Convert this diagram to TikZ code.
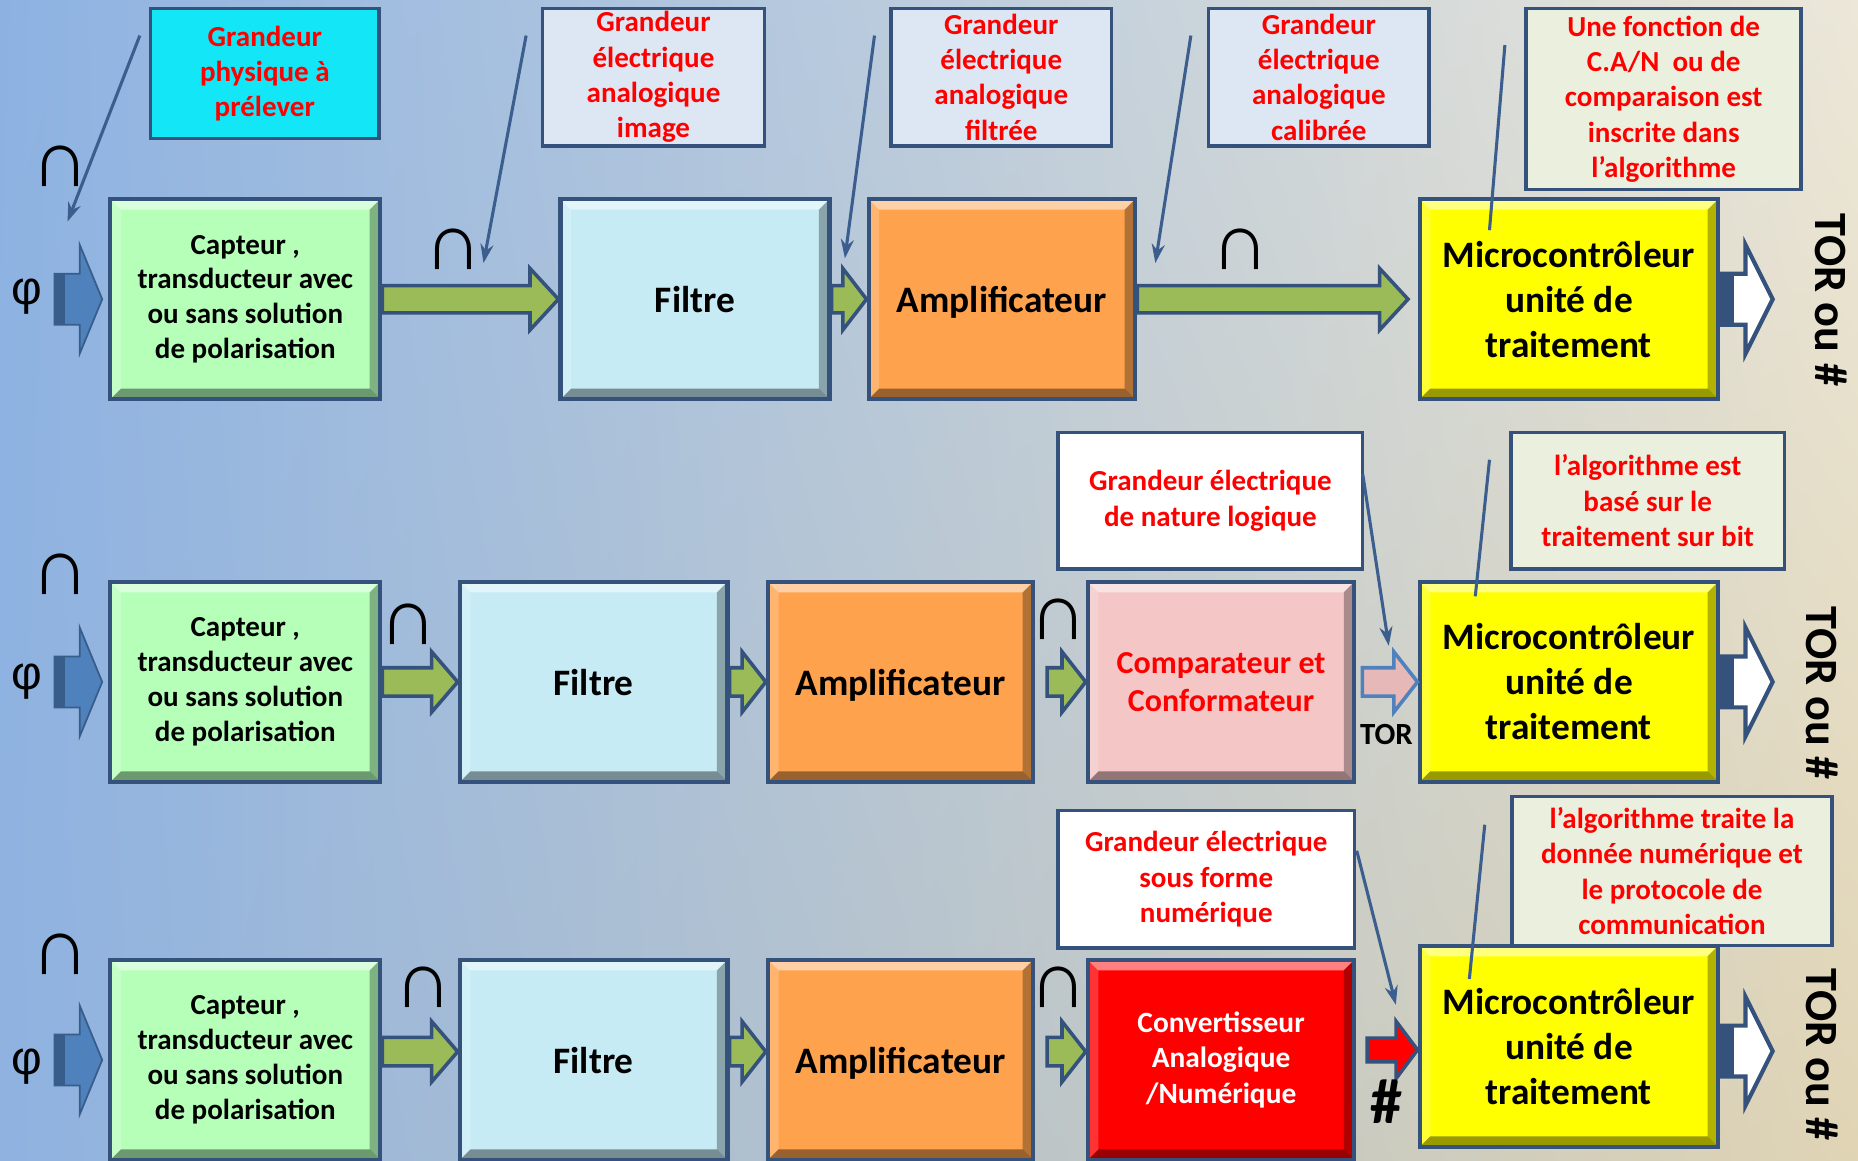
\documentclass[tikz,border=0pt]{standalone}
\usepackage{fontspec}
\setmainfont{Carlito}
\newfontfamily\symbolfont{Liberation Sans}
\usetikzlibrary{arrows.meta,calc,shadings}

\definecolor{bgleft}{RGB}{141,178,226}
\definecolor{bgleftlow}{RGB}{143,178,224}
\definecolor{bgright}{RGB}{236,231,216}
\definecolor{bgrightlow}{RGB}{224,212,180}
\definecolor{frame}{RGB}{52,82,124}
\definecolor{leadcol}{RGB}{60,94,142}
\definecolor{capgreen}{RGB}{181,255,185}
\definecolor{filblue}{RGB}{198,235,245}
\definecolor{amporange}{RGB}{255,162,77}
\definecolor{micyellow}{RGB}{255,255,0}
\definecolor{cmppink}{RGB}{244,198,198}
\definecolor{canred}{RGB}{255,0,0}
\definecolor{cyanbox}{RGB}{18,230,247}
\definecolor{paleblue}{RGB}{221,231,243}
\definecolor{palegreen}{RGB}{235,240,222}
\definecolor{arrowgreen}{RGB}{155,187,89}
\definecolor{arrowblue}{RGB}{79,129,189}
\definecolor{arrowbluedark}{RGB}{56,93,138}
\definecolor{arrowpink}{RGB}{230,185,184}
\definecolor{txtred}{RGB}{255,0,0}

% block arrow from the x of #2 to the point #3 (tip), centred on the y of #3
% #4 head length, #5 half shaft width, #6 half head width
\newcommand\blockarrow[6]{%
  \path[#1] let \p1=(#2), \p2=(#3) in
    (\x1,{\y2+#5}) -- ({\x2-#4},{\y2+#5}) -- ({\x2-#4},{\y2+#6}) -- (\x2,\y2)
    -- ({\x2-#4},{\y2-#6}) -- ({\x2-#4},{\y2-#5}) -- (\x1,{\y2-#5}) -- cycle;}

\tikzset{
  bevel/.style={path picture={
    \def\bw{9pt}
    \fill[white,opacity=.5] (path picture bounding box.north west) -- (path picture bounding box.north east)
      -- ([shift={(-\bw,-\bw)}]path picture bounding box.north east) -- ([shift={(\bw,-\bw)}]path picture bounding box.north west) -- cycle;
    \fill[white,opacity=.2] (path picture bounding box.north west) -- ([shift={(\bw,-\bw)}]path picture bounding box.north west)
      -- ([shift={(\bw,\bw)}]path picture bounding box.south west) -- (path picture bounding box.south west) -- cycle;
    \fill[black,opacity=.3] (path picture bounding box.north east) -- (path picture bounding box.south east)
      -- ([shift={(-\bw,\bw)}]path picture bounding box.south east) -- ([shift={(-\bw,-\bw)}]path picture bounding box.north east) -- cycle;
    \fill[black,opacity=.4] (path picture bounding box.south west) -- (path picture bounding box.south east)
      -- ([shift={(-\bw,\bw)}]path picture bounding box.south east) -- ([shift={(\bw,\bw)}]path picture bounding box.south west) -- cycle;
  }},
  block/.style={draw=frame, line width=3.5pt, minimum height=169pt, inner sep=0pt, align=center,
    font=\bfseries\fontsize{24.5}{29.5}\selectfont, bevel},
  bigword/.style={font=\bfseries\fontsize{31.5}{38}\selectfont},
  oneline/.style={bigword, text depth=0pt},
  callout/.style={draw=frame, line width=3pt, align=center, text=txtred, inner sep=0pt,
    font=\bfseries\fontsize{24.5}{29.8}\selectfont},
  inter/.style={font=\symbolfont\fontsize{68}{68}\selectfont, inner sep=0pt},
  phisym/.style={font=\symbolfont\fontsize{40}{40}\selectfont, inner sep=0pt},
  outlabel/.style={rotate=-90, font=\bfseries\fontsize{39}{39}\selectfont, inner sep=0pt},
  lead/.style={draw=leadcol, line width=2.6pt},
  leadarrow/.style={lead, -{Stealth[length=16pt,width=11pt]}},
  garrow/.style={fill=arrowgreen, draw=frame, line width=3pt, line join=miter},
  parrow/.style={fill=arrowpink, draw=arrowblue, line width=3pt, line join=miter},
  rarrow/.style={fill=canred, draw=frame, line width=3pt, line join=miter},
  inarrow/.style={fill=arrowblue, draw=arrowbluedark, line width=1.5pt, line join=miter},
  outarrow/.style={fill=white, draw=frame, line width=3.5pt, line join=miter},
}

\begin{document}
\begin{tikzpicture}[x=1pt,y=-1pt]
% background
\shade[upper left=bgleft, lower left=bgleftlow, upper right=bgright, lower right=bgrightlow]
  (0,0) rectangle (1568,979);
\useasboundingbox (0,0) rectangle (1568,979);

% ---------------- row 1 ----------------
\node[block, fill=capgreen, minimum width=228pt] (cap1) at (207,252.5)
  {Capteur ,\\transducteur avec\\ou sans solution\\de polarisation};
\node[block, fill=filblue, minimum width=227pt, oneline] (fil1) at (586.5,252.5) {Filtre};
\node[block, fill=amporange, minimum width=225pt, oneline] (amp1) at (845.5,252.5) {Amplificateur};
\node[block, fill=micyellow, minimum width=252pt, bigword] (mic1) at (1324,252.5)
  {Microcontrôleur\\unité de\\traitement};

\node[callout, fill=cyanbox, minimum width=193pt, minimum height=110pt] (c1) at (223.5,62)
  {Grandeur\\physique à\\prélever};
\node[callout, fill=paleblue, minimum width=187pt, minimum height=116pt] (c2) at (551.5,65)
  {Grandeur\\électrique\\analogique\\image};
\node[callout, fill=paleblue, minimum width=186pt, minimum height=116pt] (c3) at (845,65)
  {Grandeur\\électrique\\analogique\\filtrée};
\node[callout, fill=paleblue, minimum width=186pt, minimum height=116pt] (c4) at (1113,65)
  {Grandeur\\électrique\\analogique\\calibrée};
\node[callout, fill=palegreen, minimum width=232pt, minimum height=153pt] (c5) at (1404,83.5)
  {Une fonction de\\C.A/N\ \ ou de\\comparaison est\\inscrite dans\\l’algorithme};

\coordinate (in1) at (46,252.5);
\coordinate (out1) at (1496,252.5);
\blockarrow{inarrow}{in1}{[xshift=-5pt]cap1.west}{19pt}{21.5pt}{46pt}
\path[fill=arrowbluedark] let \p1=(in1) in (\x1,{\y1-21.5pt}) rectangle ({\x1+9pt},{\y1+21.5pt});
\blockarrow{garrow}{cap1.east}{fil1.west}{24pt}{11.5pt}{26pt}
\blockarrow{garrow}{fil1.east}{amp1.west}{20pt}{11.5pt}{26pt}
\blockarrow{garrow}{amp1.east}{[xshift=-8pt]mic1.west}{24pt}{11.5pt}{26pt}
\blockarrow{outarrow}{mic1.east}{out1}{23pt}{21.5pt}{46pt}
\path[fill=frame] let \p1=(mic1.east) in (\x1,{\y1-21.5pt}) rectangle ({\x1+12pt},{\y1+21.5pt});

\node[phisym] (phi1) at (23,250) {φ};
\node[inter] (u1a) at (51,140) {∩};
\node[inter] (u1b) at (383,210) {∩};
\node[inter] (u1c) at (1047,210) {∩};
\node[outlabel] (tor1) at (1545,253) {TOR ou \#};

\coordinate (l1a) at (118,30);  \coordinate (l1b) at (57,187);
\coordinate (l2a) at (444,30);  \coordinate (l2b) at (408,222);
\coordinate (l3a) at (738,30);  \coordinate (l3b) at (713,218);
\coordinate (l4a) at (1005,30); \coordinate (l4b) at (975,222);
\coordinate (l5a) at (1270,38);
\draw[leadarrow] (l1a) -- (l1b);
\draw[leadarrow] (l2a) -- (l2b);
\draw[leadarrow] (l3a) -- (l3b);
\draw[leadarrow] (l4a) -- (l4b);
\draw[lead] (l5a) -- ([xshift=-67pt,yshift=-28pt]mic1.north);

% ---------------- row 2 ----------------
\node[block, fill=capgreen, minimum width=228pt] (cap2) at (207,575.5)
  {Capteur ,\\transducteur avec\\ou sans solution\\de polarisation};
\node[block, fill=filblue, minimum width=226pt, oneline] (fil2) at (501,575.5) {Filtre};
\node[block, fill=amporange, minimum width=224pt, oneline] (amp2) at (760,575.5) {Amplificateur};
\node[block, fill=cmppink, minimum width=225pt, text=txtred, font=\bfseries\fontsize{27}{32.5}\selectfont]
  (cmp2) at (1030.5,575.5) {Comparateur et\\Conformateur};
\node[block, fill=micyellow, minimum width=252pt, bigword] (mic2) at (1324,575.5)
  {Microcontrôleur\\unité de\\traitement};

\node[callout, fill=white, minimum width=257pt, minimum height=115pt] (c6) at (1021.5,422.5)
  {Grandeur électrique\\de nature logique};
\node[callout, fill=palegreen, minimum width=231pt, minimum height=115pt] (c7) at (1390.5,422.5)
  {l’algorithme est\\basé sur le\\traitement sur bit};

\coordinate (in2) at (46,575.5);
\coordinate (out2) at (1496,575.5);
\blockarrow{inarrow}{in2}{[xshift=-5pt]cap2.west}{19pt}{21.5pt}{46pt}
\path[fill=arrowbluedark] let \p1=(in2) in (\x1,{\y1-21.5pt}) rectangle ({\x1+9pt},{\y1+21.5pt});
\blockarrow{garrow}{cap2.east}{fil2.west}{22pt}{12pt}{25.5pt}
\blockarrow{garrow}{fil2.east}{amp2.west}{20pt}{12pt}{25.5pt}
\blockarrow{garrow}{[xshift=10pt]amp2.east}{cmp2.west}{20pt}{12pt}{25.5pt}
\blockarrow{parrow}{[xshift=5pt]cmp2.east}{mic2.west}{20pt}{12pt}{25.5pt}
\blockarrow{outarrow}{mic2.east}{out2}{23pt}{21.5pt}{46pt}
\path[fill=frame] let \p1=(mic2.east) in (\x1,{\y1-21.5pt}) rectangle ({\x1+12pt},{\y1+21.5pt});

\node[phisym] (phi2) at (23,575) {φ};
\node[inter] (u2a) at (51,485) {∩};
\node[inter] (u2b) at (345,527) {∩};
\node[inter] (u2c) at (893,523) {∩};
\node[font=\bfseries\fontsize{26}{26}\selectfont, inner sep=0pt] (tor2in) at (1170,620) {TOR};
\node[outlabel] (tor2) at (1538,585) {TOR ou \#};

\coordinate (l6a) at (1150,400); \coordinate (l6b) at (1172,545);
\coordinate (l7a) at (1257,388);
\draw[leadarrow] (l6a) -- (l6b);
\draw[lead] (l7a) -- ([xshift=-79pt,yshift=-14pt]mic2.north);

% ---------------- row 3 ----------------
\node[block, fill=capgreen, minimum width=228pt] (cap3) at (207,894.5)
  {Capteur ,\\transducteur avec\\ou sans solution\\de polarisation};
\node[block, fill=filblue, minimum width=226pt, oneline] (fil3) at (501,894.5) {Filtre};
\node[block, fill=amporange, minimum width=224pt, oneline] (amp3) at (760,894.5) {Amplificateur};
\node[block, fill=canred, minimum width=225pt, text=white, font=\bfseries\fontsize{24.8}{30}\selectfont]
  (can3) at (1030.5,894.5) {Convertisseur\\Analogique\\/Numérique};
\node[block, fill=micyellow, minimum width=252pt, minimum height=170pt, bigword] (mic3) at (1324,883)
  {Microcontrôleur\\unité de\\traitement};

\node[callout, fill=white, minimum width=250pt, minimum height=116pt] (c8) at (1018,742)
  {Grandeur électrique\\sous forme\\numérique};
\node[callout, fill=palegreen, minimum width=270pt, minimum height=126pt] (c9) at (1411,735)
  {l’algorithme traite la\\donnée numérique et\\le protocole de\\communication};

\coordinate (in3) at (46,894.5);
\coordinate (out3) at (1496,883);
\blockarrow{inarrow}{in3}{[xshift=-5pt]cap3.west}{19pt}{21.5pt}{46pt}
\path[fill=arrowbluedark] let \p1=(in3) in (\x1,{\y1-21.5pt}) rectangle ({\x1+9pt},{\y1+21.5pt});
\blockarrow{garrow}{cap3.east}{[yshift=7pt]fil3.west}{22pt}{12pt}{25.5pt}
\blockarrow{garrow}{fil3.east}{[yshift=7pt]amp3.west}{20pt}{12pt}{25.5pt}
\blockarrow{garrow}{[xshift=10pt]amp3.east}{[yshift=7pt]can3.west}{20pt}{12pt}{25.5pt}
\blockarrow{rarrow}{[xshift=9pt]can3.east}{[yshift=-3pt]mic3.west}{18pt}{10pt}{24pt}
\blockarrow{outarrow}{mic3.east}{[yshift=-4pt]out3}{23pt}{21.5pt}{46pt}
\path[fill=frame] let \p1=([yshift=-4pt]mic3.east) in (\x1,{\y1-21.5pt}) rectangle ({\x1+12pt},{\y1+21.5pt});

\node[phisym] (phi3) at (23,900) {φ};
\node[inter] (u3a) at (51,805) {∩};
\node[inter] (u3b) at (357,833) {∩};
\node[inter] (u3c) at (893,833) {∩};
\node[font=\bfseries\fontsize{54}{54}\selectfont, inner sep=0pt] (hash3) at (1170,930) {\#};
\node[outlabel] (tor3) at (1538,890) {TOR ou \#};

\coordinate (l8a) at (1145,718); \coordinate (l8b) at (1178,848);
\coordinate (l9a) at (1253,696);
\draw[leadarrow] (l8a) -- (l8b);
\draw[lead] (l9a) -- ([xshift=-84pt,yshift=-30pt]mic3.north);
\end{tikzpicture}
\end{document}
